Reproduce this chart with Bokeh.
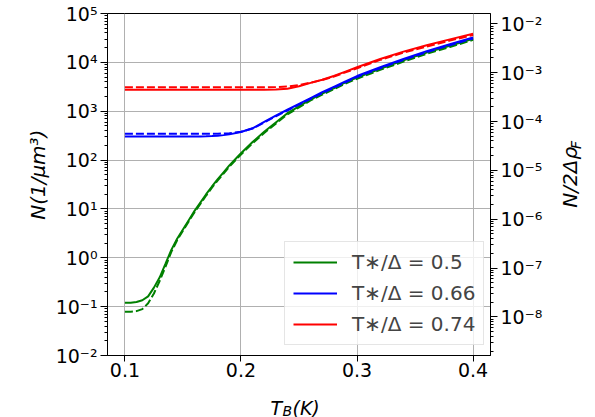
import numpy as np
from bokeh.plotting import figure
from bokeh.layouts import row, column
from bokeh.models import (Range1d, LogAxis, LogScale, FixedTicker, CustomJSTickFormatter,
                          Legend, LegendItem)
from bokeh.core.properties import value
from bokeh.embed import file_html
from bokeh.resources import INLINE

# ---------------- data ----------------
T_B = [0.100, 0.105, 0.110, 0.115, 0.120, 0.125, 0.130, 0.135, 0.140, 0.145,
       0.150, 0.155, 0.160, 0.165, 0.170, 0.175, 0.180, 0.185, 0.190, 0.200,
       0.210, 0.220, 0.230, 0.240, 0.250, 0.260, 0.270, 0.280, 0.290, 0.300,
       0.320, 0.340, 0.360, 0.380, 0.400]

n_green_solid = [0.120, 0.120, 0.124, 0.135, 0.162, 0.245, 0.398, 0.759, 1.45, 2.45,
                 3.80, 5.89, 9.12, 13.5, 20.0, 28.8, 40.7, 56.2, 77.6, 138,
                 234, 380, 589, 912, 1259, 1738, 2291, 2951, 3890, 4898,
                 7413, 10965, 15849, 21878, 30200]
n_green_dash = [0.079, 0.079, 0.081, 0.089, 0.117, 0.186, 0.339, 0.661, 1.32, 2.29,
                3.59, 5.56, 8.61, 12.7, 18.8, 27.2, 38.5, 53.1, 73.3, 130,
                221, 359, 556, 861, 1202, 1660, 2188, 2818, 3673, 4624,
                7000, 10351, 14962, 20654, 28840]
n_blue_solid = [305, 305, 305, 305, 305, 305, 305, 305, 305, 305,
                305, 305, 305, 305, 307, 311, 316, 324, 336, 375,
                447, 603, 813, 1072, 1413, 1862, 2455, 3162, 4074, 5248,
                7943, 11749, 16982, 23442, 32359]
n_blue_dash = [347, 347, 347, 347, 347, 347, 347, 347, 347, 347,
               347, 347, 347, 347, 347, 347, 347, 349, 355, 380,
               442, 589, 785, 1035, 1365, 1799, 2344, 3020, 3890, 5012,
               7586, 11220, 16218, 22387, 30903]
n_red_solid = [2754, 2754, 2754, 2754, 2754, 2754, 2754, 2754, 2754, 2754,
               2754, 2754, 2754, 2754, 2754, 2754, 2754, 2754, 2754, 2754,
               2754, 2754, 2773, 2884, 3236, 3802, 4416, 5248, 6457, 7943,
               11749, 16596, 22387, 29512, 38459]
n_red_dash = [3090, 3090, 3090, 3090, 3090, 3090, 3090, 3090, 3090, 3090,
              3090, 3090, 3090, 3090, 3090, 3090, 3090, 3090, 3090, 3090,
              3090, 3090, 3126, 3199, 3428, 3846, 4365, 5129, 6237, 7586,
              11220, 15849, 21135, 27861, 36308]

series_labels = ["T\u2217/\u0394 = 0.5", "T\u2217/\u0394 = 0.66", "T\u2217/\u0394 = 0.74"]
x_ticks = [0.1, 0.2, 0.3, 0.4]
left_exps = list(range(-2, 6))
right_exps = list(range(-8, -1))

# ---------------- layout ----------------
W, H = 595, 417
LSTRIP, RSTRIP = 52, 45          # side strips holding the rotated axis titles
MAIN_H = 384                     # main figure height; bottom strip holds the x title
FX0, FX1, FY0, FY1 = 104, 490, 13, 355   # frame in page pixels
XR = (0.085, 0.415)
YL = (-2.0, 5.0)
RIGHT_SHIFT = -6.789  # log10 ratio of right axis to left axis

FONT = "DejaVu Sans"
MAIN_W = W - LSTRIP - RSTRIP

p = figure(width=MAIN_W, height=MAIN_H, output_backend="svg", toolbar_location=None,
           x_range=Range1d(*XR), y_range=Range1d(10 ** YL[0], 10 ** YL[1]),
           y_axis_type="log",
           min_border_left=FX0 - LSTRIP, min_border_right=(W - RSTRIP) - FX1,
           min_border_top=FY0, min_border_bottom=MAIN_H - FY1)
p.background_fill_color = "white"
p.border_fill_color = "white"
p.outline_line_color = "black"
p.outline_line_width = 1

sup_js = """
const e = Math.round(Math.log10(tick));
const m = {"-": "\\u207b", "0": "\\u2070", "1": "\\u00b9", "2": "\\u00b2", "3": "\\u00b3",
           "4": "\\u2074", "5": "\\u2075", "6": "\\u2076", "7": "\\u2077", "8": "\\u2078", "9": "\\u2079"};
return "10" + String(e).split("").map(c => m[c]).join("");
"""

left_major = [10.0 ** k for k in left_exps]
left_minor = [m * 10.0 ** k for k in range(-3, 5) for m in range(2, 10)]
lt = FixedTicker(ticks=left_major, minor_ticks=left_minor)
xt = FixedTicker(ticks=x_ticks, minor_ticks=[])


def style_axis(ax, standoff, tick_out=7):
    ax.axis_line_color = "black"
    ax.axis_line_width = 1
    ax.major_tick_line_color = "black"
    ax.minor_tick_line_color = "black"
    ax.major_tick_out = tick_out
    ax.major_tick_in = 0
    ax.minor_tick_out = 3
    ax.minor_tick_in = 0
    ax.major_label_text_font = FONT
    ax.major_label_text_font_size = "19px"
    ax.major_label_text_color = "black"
    ax.major_label_standoff = standoff
    ax.axis_label = None


p.xaxis.ticker = xt
p.yaxis.ticker = lt
p.yaxis.formatter = CustomJSTickFormatter(code=sup_js)
style_axis(p.xaxis[0], 1, tick_out=6)
style_axis(p.yaxis[0], 3)

p.xgrid.ticker = xt
p.ygrid.ticker = FixedTicker(ticks=left_major)
for g in (p.xgrid[0], p.ygrid[0]):
    g.grid_line_color = "#b0b0b0"
    g.grid_line_width = 1

# right axis
p.extra_y_ranges = {"right": Range1d(10 ** (YL[0] + RIGHT_SHIFT), 10 ** (YL[1] + RIGHT_SHIFT))}
p.extra_y_scales = {"right": LogScale()}
right_major = [10.0 ** k for k in right_exps]
right_minor = [m * 10.0 ** k for k in range(-10, -1) for m in range(2, 10)]
rax = LogAxis(y_range_name="right",
              ticker=FixedTicker(ticks=right_major, minor_ticks=right_minor),
              formatter=CustomJSTickFormatter(code=sup_js))
style_axis(rax, 3)
p.add_layout(rax, "right")

# curves
LW = 2
DASH = "8 3"
r_gs = p.line(T_B, n_green_solid, line_color="green", line_width=LW)
p.line(T_B, n_green_dash, line_color="green", line_width=LW, line_dash=DASH)
r_bs = p.line(T_B, n_blue_solid, line_color="blue", line_width=LW)
p.line(T_B, n_blue_dash, line_color="blue", line_width=LW, line_dash=DASH)
r_rs = p.line(T_B, n_red_solid, line_color="red", line_width=LW)
p.line(T_B, n_red_dash, line_color="red", line_width=LW, line_dash=DASH)

legend = Legend(items=[LegendItem(label=series_labels[0], renderers=[r_gs]),
                       LegendItem(label=series_labels[1], renderers=[r_bs]),
                       LegendItem(label=series_labels[2], renderers=[r_rs])],
                location=(177, 10))
legend.label_text_font = FONT
legend.label_text_font_size = "20px"
legend.label_standoff = 15
legend.glyph_width = 44
legend.glyph_height = 24
legend.label_height = 24
legend.spacing = 7
legend.padding = 8
legend.margin = 0
legend.border_line_color = "#cccccc"
legend.border_line_width = 1
legend.background_fill_color = "white"
legend.background_fill_alpha = 0.8
p.add_layout(legend)


# ---------------- title strips (pixel coordinate figures) ----------------
def strip(w, h):
    f = figure(width=w, height=h, output_backend="svg", toolbar_location=None,
               x_range=Range1d(0, w), y_range=Range1d(h, 0),
               x_axis_location=None, y_axis_location=None,
               min_border=0, tools="")
    f.grid.visible = False
    f.outline_line_color = None
    f.background_fill_color = "white"
    f.border_fill_color = "white"
    return f


def txt(f, s, x, y, size, angle=0.0, align="left"):
    f.text(x=[x], y=[y], text=[s], angle=angle, text_align=align,
           text_baseline="alphabetic", text_font=value(FONT),
           text_font_size=f"{size}px", text_font_style="italic", text_color="black")


left = strip(LSTRIP, MAIN_H)
txt(left, "N(1/\u03bcm\u00b3)", 37, 181, 20, angle=np.pi / 2, align="center")

right = strip(RSTRIP, MAIN_H)
rx0 = W - RSTRIP
txt(right, "N/2\u0394\u03c1", 569 - rx0, 218, 20, angle=np.pi / 2)
txt(right, "F", 575 - rx0, 152, 14, angle=np.pi / 2)

bottom = strip(W, H - MAIN_H)
txt(bottom, "T", 270, 407 - MAIN_H, 19)
txt(bottom, "B", 282, 410 - MAIN_H, 14)
txt(bottom, "(K)", 292, 407 - MAIN_H, 19)

layout = column(row(left, p, right, spacing=0), bottom, spacing=0)
open("out.html", "w").write(file_html(layout, INLINE))
